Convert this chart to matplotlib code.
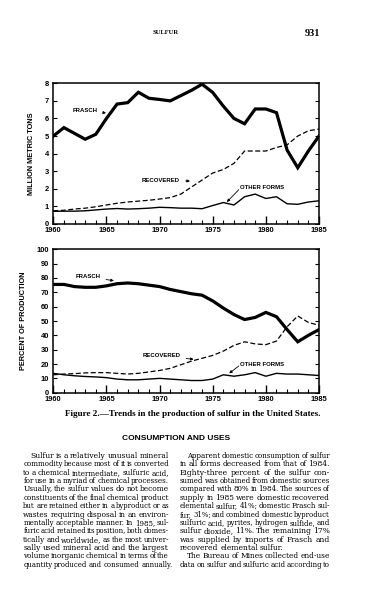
import matplotlib
matplotlib.use("Agg")
import matplotlib.pyplot as plt
from matplotlib.ticker import MultipleLocator

years = list(range(1960, 1986))

# million metric tons
frasch_tons = [5.0, 5.48, 5.15, 4.82, 5.1, 6.0, 6.82, 6.9, 7.49, 7.15, 7.08, 7.0, 7.3,
               7.6, 7.95, 7.48, 6.7, 6.0, 5.7, 6.54, 6.54, 6.33, 4.2, 3.2, 4.15, 5.0]
recovered_tons = [0.75, 0.78, 0.85, 0.9, 0.98, 1.08, 1.18, 1.25, 1.3, 1.35, 1.42, 1.5, 1.7,
                  2.1, 2.5, 2.9, 3.1, 3.45, 4.15, 4.15, 4.15, 4.35, 4.5, 5.0, 5.3, 5.4]
other_tons = [0.72, 0.73, 0.73, 0.75, 0.8, 0.85, 0.88, 0.85, 0.87, 0.9, 0.95, 0.93, 0.9,
              0.9, 0.87, 1.05, 1.22, 1.08, 1.55, 1.7, 1.45, 1.55, 1.15, 1.12, 1.25, 1.32]

# percent of production
frasch_pct = [75.5, 75.5, 74, 73.5, 73.5, 74.5, 76, 76.5, 76, 75, 74, 72, 70.5,
              69, 68, 64, 59, 54.5, 51, 52.5, 56, 53, 44, 35.5, 40, 44]
recovered_pct = [12.5, 13, 13.3, 13.8, 14, 14, 13.5, 13, 13.5, 14.5, 15.5, 17, 19.5,
                 22, 24, 26, 29, 33, 35.5, 34, 33.5, 36, 46, 53.5, 49, 47]
other_pct = [13.5, 12.5, 11.8, 11.3, 11, 10.5, 9.5, 9, 9, 9.5, 10, 9.5, 9,
             8.5, 8.5, 9.5, 12.5, 11.5, 12.5, 14, 11.5, 13.5, 13, 13, 12.5, 12]

left_col = [
    "Sulfur is a relatively unusual mineral",
    "commodity because most of it is converted",
    "to a chemical intermediate, sulfuric acid,",
    "for use in a myriad of chemical processes.",
    "Usually, the sulfur values do not become",
    "constituents of the final chemical product",
    "but are retained either in a byproduct or as",
    "wastes requiring disposal in an environ-",
    "mentally acceptable manner. In 1985, sul-",
    "furic acid retained its position, both domes-",
    "tically and worldwide, as the most univer-",
    "sally used mineral acid and the largest",
    "volume inorganic chemical in terms of the",
    "quantity produced and consumed annually.",
]
right_col = [
    "Apparent domestic consumption of sulfur",
    "in all forms decreased from that of 1984.",
    "Eighty-three percent of the sulfur con-",
    "sumed was obtained from domestic sources",
    "compared with 80% in 1984. The sources of",
    "supply in 1985 were domestic recovered",
    "elemental sulfur, 41%; domestic Frasch sul-",
    "fur, 31%; and combined domestic byproduct",
    "sulfuric acid, pyrites, hydrogen sulfide, and",
    "sulfur dioxide, 11%. The remaining 17%",
    "was supplied by imports of Frasch and",
    "recovered elemental sulfur.",
    "The Bureau of Mines collected end-use",
    "data on sulfur and sulfuric acid according to",
]
# (indented, justified) per line
left_fmt = [(True, True)] + [(False, True)] * 12 + [(False, False)]
right_fmt = ([(True, True)] + [(False, True)] * 10 + [(False, False)]
             + [(True, True), (False, True)])

W, H = 385, 600
SANS = "Liberation Sans"
SERIF = "Liberation Serif"
BODY_FONT = "DejaVu Serif"

fig = plt.figure(figsize=(3.85, 6.0), dpi=100)


def px_axes(x0, y0, x1, y1):
    return fig.add_axes([x0 / W, 1 - y1 / H, (x1 - x0) / W, (y1 - y0) / H])


def style_axes(ax, ymax, ystep, ylabel):
    ax.set_xlim(1960, 1985)
    ax.set_ylim(0, ymax)
    ax.xaxis.set_major_locator(MultipleLocator(5))
    ax.xaxis.set_minor_locator(MultipleLocator(1))
    ax.yaxis.set_major_locator(MultipleLocator(ystep))
    ax.tick_params(axis="x", which="major", direction="in", length=6, width=1.0,
                   pad=2.5, labelsize=5.4)
    ax.tick_params(axis="x", which="minor", direction="in", length=3, width=0.8)
    ax.tick_params(axis="y", which="major", direction="in", length=3, width=0.8,
                   left=True, right=True, pad=3, labelsize=5.4)
    for lab in ax.get_xticklabels() + ax.get_yticklabels():
        lab.set_fontfamily(SANS)
        lab.set_fontweight("bold")
    for sp in ax.spines.values():
        sp.set_linewidth(1.1)
    ax.set_ylabel(ylabel, fontfamily=SANS, fontweight="bold", fontsize=5.3,
                  labelpad=7)


ARROW = dict(arrowstyle="-|>", lw=0.6, color="black", mutation_scale=4,
             shrinkA=2, shrinkB=0)
LABEL = dict(fontfamily=SANS, fontweight="bold", fontsize=4.3, va="center")

# top chart
ax1 = px_axes(53.3, 83.3, 319, 224)
ax1.plot(years, frasch_tons, color="black", lw=2.3, solid_joinstyle="miter")
ax1.plot(years, recovered_tons, color="black", lw=0.9, dashes=(4, 2))
ax1.plot(years, other_tons, color="black", lw=1.0)
style_axes(ax1, 8, 1, "MILLION METRIC TONS")
ax1.annotate("FRASCH", xy=(1964.96, 6.31), xytext=(1961.85, 6.48),
             arrowprops=ARROW, **LABEL)
ax1.annotate("RECOVERED", xy=(1972.86, 2.44), xytext=(1968.35, 2.5),
             arrowprops=ARROW, **LABEL)
ax1.text(1977.6, 2.05, "OTHER FORMS", **LABEL)
ax1.annotate("", xy=(1976.33, 1.25), xytext=(1977.45, 1.95),
             arrowprops=dict(ARROW, shrinkA=0))

# bottom chart
ax2 = px_axes(53.3, 249.3, 319, 392.7)
ax2.plot(years, frasch_pct, color="black", lw=2.3, solid_joinstyle="miter")
ax2.plot(years, recovered_pct, color="black", lw=0.9, dashes=(4, 2))
ax2.plot(years, other_pct, color="black", lw=1.0)
style_axes(ax2, 100, 10, "PERCENT OF PRODUCTION")
ax2.annotate("FRASCH", xy=(1965.7, 78.1), xytext=(1962.1, 80.8),
             arrowprops=ARROW, **LABEL)
ax2.annotate("RECOVERED", xy=(1973.2, 23.3), xytext=(1968.4, 25.6),
             arrowprops=ARROW, **LABEL)
ax2.text(1977.6, 19.8, "OTHER FORMS", **LABEL)
ax2.annotate("", xy=(1976.55, 13.5), xytext=(1977.45, 18.6),
             arrowprops=dict(ARROW, shrinkA=0))

# page text
fig.text(166 / W, 1 - 33 / H, "SULFUR", fontfamily=SERIF, fontweight="bold",
         fontsize=4.8, ha="center", va="center")
fig.text(320 / W, 1 - 33 / H, "931", fontfamily=SERIF, fontweight="bold",
         fontsize=7.5, ha="right", va="center")
fig.text(65 / W, 1 - 414 / H,
         "Figure 2.\u2014Trends in the production of sulfur in the United States.",
         fontfamily=SERIF, fontweight="bold", fontsize=6.6, ha="left", va="center")
fig.text(176 / W, 1 - 438 / H, "CONSUMPTION AND USES", fontfamily=SANS,
         fontweight="bold", fontsize=6.0, ha="center", va="center")

renderer = fig.canvas.get_renderer()
BODY_SIZE = 5.5


def word_widths(words, size):
    out = []
    for w in words:
        t = fig.text(0, 0, w, fontfamily=BODY_FONT, fontsize=size)
        out.append(t.get_window_extent(renderer).width)
        t.remove()
    return out


def draw_column(lines, fmts, x0, x1, y0, dy):
    for i, (line, (indent, justify)) in enumerate(zip(lines, fmts)):
        y = 1 - round(y0 + i * dy + 2) / H
        start = x0 + (7 if indent else 0)
        words = line.split()
        size = BODY_SIZE
        widths = word_widths(words, size)
        space = 0.22 * size * 100 / 72
        natural = sum(widths) + space * (len(words) - 1)
        if natural > x1 - start:
            # pick a smaller size for a tight line before drawing it
            size = round(size * (x1 - start) / natural, 2)
            widths = word_widths(words, size)
        if justify:
            gap = (x1 - start - sum(widths)) / max(len(words) - 1, 1)
        else:
            gap = 0.25 * size * 100 / 72
        x = start
        for w, wd in zip(words, widths):
            fig.text(x / W, y, w, fontfamily=BODY_FONT, fontsize=size,
                     va="baseline", ha="left")
            x += wd + gap


draw_column(left_col, left_fmt, 23.3, 169, 456, 8.36)
draw_column(right_col, right_fmt, 180, 330, 456, 8.36)

fig.savefig("out.png", dpi=100, facecolor="white")
